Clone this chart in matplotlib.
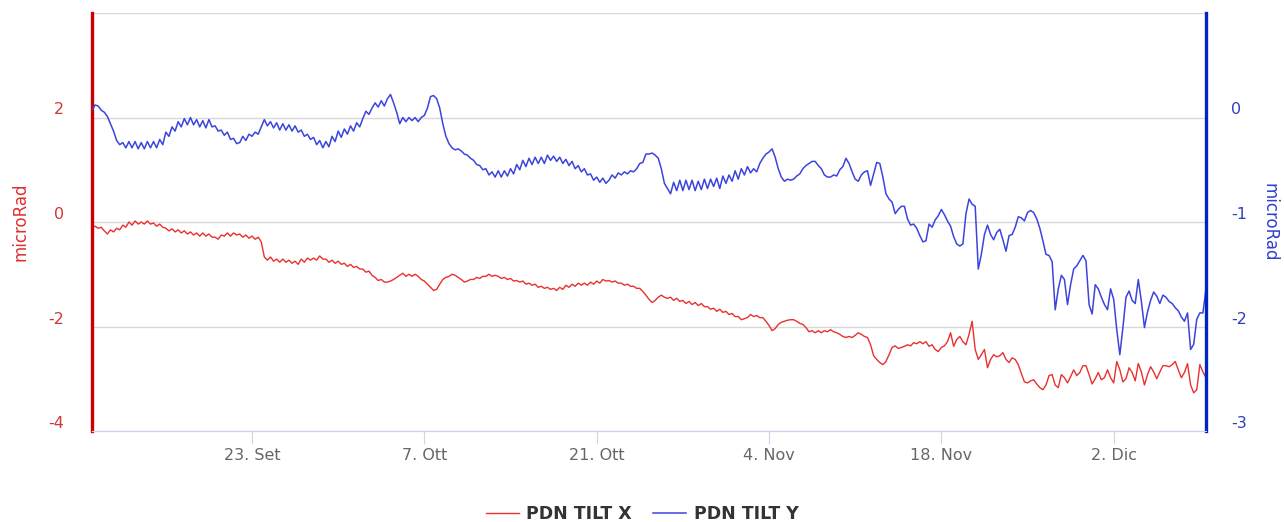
import pandas as pd
import matplotlib
matplotlib.use("Agg")
import matplotlib.pyplot as plt
import matplotlib.transforms as mtransforms

# PDN tilt readings, one value every 6 hours from 10 Sep
start = "2019-09-10 00:00"

tilt_x = [
    -0.10, -0.08, -0.12, -0.10,  -0.17, -0.23, -0.15, -0.19,  -0.12, -0.15, -0.06, -0.10,
    0.00, -0.06, 0.02, -0.04,  0.00, -0.04, 0.02, -0.04,  -0.02, -0.08, -0.04, -0.10,
    -0.12, -0.17, -0.13, -0.19,  -0.15, -0.21, -0.17, -0.23,  -0.19, -0.25, -0.21, -0.27,
    -0.21, -0.27, -0.23, -0.29,  -0.29, -0.33, -0.25, -0.27,  -0.21, -0.27, -0.21, -0.25,
    -0.23, -0.29, -0.25, -0.31,  -0.27, -0.33, -0.29, -0.38,  -0.67, -0.73, -0.67, -0.75,
    -0.71, -0.77, -0.71, -0.77,  -0.73, -0.79, -0.75, -0.81,  -0.71, -0.77, -0.69, -0.73,
    -0.69, -0.73, -0.65, -0.71,  -0.71, -0.77, -0.73, -0.79,  -0.75, -0.81, -0.79, -0.85,
    -0.81, -0.87, -0.85, -0.90,  -0.90, -0.96, -0.94, -1.02,  -1.06, -1.12, -1.10, -1.15,
    -1.15, -1.13, -1.10, -1.06,  -1.02, -0.98, -1.04, -1.00,  -1.04, -1.00, -1.04, -1.10,
    -1.13, -1.19, -1.25, -1.31,  -1.29, -1.19, -1.10, -1.06,  -1.04, -1.00, -1.02, -1.06,
    -1.10, -1.15, -1.13, -1.10,  -1.10, -1.06, -1.08, -1.04,  -1.04, -1.00, -1.04, -1.02,
    -1.04, -1.08, -1.06, -1.10,  -1.08, -1.13, -1.12, -1.15,  -1.13, -1.19, -1.17, -1.21,
    -1.19, -1.25, -1.23, -1.27,  -1.25, -1.29, -1.27, -1.31,  -1.25, -1.29, -1.21, -1.25,
    -1.19, -1.23, -1.17, -1.21,  -1.17, -1.21, -1.15, -1.19,  -1.13, -1.17, -1.10, -1.13,
    -1.12, -1.15, -1.13, -1.17,  -1.17, -1.21, -1.19, -1.23,  -1.23, -1.27, -1.27, -1.33,
    -1.40, -1.48, -1.54, -1.50,  -1.44, -1.40, -1.44, -1.46,  -1.44, -1.50, -1.46, -1.52,
    -1.50, -1.56, -1.52, -1.58,  -1.54, -1.60, -1.56, -1.62,  -1.62, -1.67, -1.65, -1.71,
    -1.67, -1.73, -1.71, -1.77,  -1.75, -1.81, -1.81, -1.87,  -1.85, -1.83, -1.77, -1.81,
    -1.79, -1.83, -1.83, -1.90,  -1.98, -2.08, -2.04, -1.96,  -1.92, -1.90, -1.88, -1.87,
    -1.87, -1.90, -1.94, -1.96,  -2.02, -2.10, -2.08, -2.12,  -2.08, -2.12, -2.08, -2.10,
    -2.06, -2.10, -2.12, -2.15,  -2.19, -2.21, -2.19, -2.21,  -2.17, -2.12, -2.15, -2.19,
    -2.21, -2.35, -2.56, -2.63,  -2.69, -2.73, -2.67, -2.54,  -2.40, -2.37, -2.42, -2.40,
    -2.38, -2.35, -2.37, -2.31,  -2.33, -2.29, -2.33, -2.29,  -2.38, -2.35, -2.44, -2.48,
    -2.40, -2.37, -2.29, -2.12,  -2.38, -2.25, -2.19, -2.29,  -2.35, -2.15, -1.90, -2.44,
    -2.63, -2.54, -2.44, -2.79,  -2.63, -2.54, -2.58, -2.56,  -2.50, -2.63, -2.69, -2.60,
    -2.63, -2.73, -2.90, -3.06,  -3.08, -3.04, -3.02, -3.10,  -3.17, -3.21, -3.12, -2.94,
    -2.92, -3.12, -3.17, -2.92,  -2.98, -3.08, -2.96, -2.83,  -2.94, -2.88, -2.75, -2.75,
    -2.92, -3.10, -3.00, -2.88,  -3.02, -2.98, -2.83, -2.98,  -3.08, -2.67, -2.83, -3.06,
    -3.00, -2.79, -2.88, -3.04,  -2.71, -2.87, -3.12, -2.92,  -2.77, -2.87, -3.00, -2.87,
    -2.75, -2.75, -2.77, -2.73,  -2.67, -2.83, -2.98, -2.88,  -2.71, -3.12, -3.27, -3.21,
    -2.73, -2.87, -2.98,
]

tilt_y = [
    0.07, 0.12, 0.11, 0.07,  0.05, 0.01, -0.06, -0.13,  -0.22, -0.26, -0.24, -0.29,
    -0.23, -0.29, -0.23, -0.30,  -0.24, -0.30, -0.23, -0.29,  -0.23, -0.29, -0.21, -0.26,
    -0.14, -0.18, -0.09, -0.13,  -0.04, -0.09, -0.01, -0.07,  0.00, -0.07, -0.02, -0.09,
    -0.03, -0.10, -0.02, -0.09,  -0.08, -0.13, -0.12, -0.17,  -0.14, -0.21, -0.20, -0.25,
    -0.24, -0.18, -0.22, -0.16,  -0.18, -0.14, -0.16, -0.09,  -0.02, -0.08, -0.04, -0.10,
    -0.05, -0.12, -0.06, -0.12,  -0.07, -0.13, -0.08, -0.14,  -0.12, -0.18, -0.16, -0.21,
    -0.19, -0.26, -0.22, -0.29,  -0.23, -0.28, -0.18, -0.23,  -0.13, -0.19, -0.11, -0.16,
    -0.08, -0.13, -0.05, -0.09,  -0.01, 0.06, 0.03, 0.09,  0.14, 0.10, 0.16, 0.11,
    0.18, 0.22, 0.14, 0.05,  -0.06, 0.00, -0.04, 0.00,  -0.03, 0.00, -0.04, 0.00,
    0.02, 0.09, 0.20, 0.21,  0.18, 0.09, -0.06, -0.18,  -0.25, -0.29, -0.31, -0.30,
    -0.32, -0.35, -0.36, -0.39,  -0.41, -0.45, -0.46, -0.50,  -0.49, -0.55, -0.52, -0.57,
    -0.51, -0.57, -0.51, -0.56,  -0.49, -0.54, -0.45, -0.50,  -0.41, -0.47, -0.39, -0.45,
    -0.38, -0.44, -0.38, -0.44,  -0.36, -0.41, -0.37, -0.42,  -0.38, -0.44, -0.40, -0.46,
    -0.42, -0.49, -0.46, -0.52,  -0.49, -0.55, -0.54, -0.60,  -0.57, -0.62, -0.58, -0.63,
    -0.60, -0.55, -0.58, -0.53,  -0.55, -0.52, -0.54, -0.51,  -0.52, -0.49, -0.44, -0.43,
    -0.35, -0.35, -0.34, -0.36,  -0.39, -0.49, -0.63, -0.68,  -0.73, -0.62, -0.70, -0.60,
    -0.70, -0.60, -0.69, -0.60,  -0.70, -0.61, -0.69, -0.59,  -0.68, -0.59, -0.66, -0.58,
    -0.68, -0.56, -0.63, -0.55,  -0.61, -0.51, -0.59, -0.49,  -0.55, -0.47, -0.53, -0.49,
    -0.52, -0.44, -0.39, -0.35,  -0.33, -0.30, -0.38, -0.49,  -0.57, -0.61, -0.59, -0.60,
    -0.59, -0.56, -0.54, -0.49,  -0.46, -0.44, -0.42, -0.42,  -0.46, -0.49, -0.55, -0.57,
    -0.57, -0.55, -0.56, -0.50,  -0.47, -0.39, -0.44, -0.52,  -0.59, -0.61, -0.55, -0.52,
    -0.51, -0.65, -0.54, -0.43,  -0.44, -0.57, -0.73, -0.78,  -0.81, -0.92, -0.88, -0.85,
    -0.85, -0.97, -1.03, -1.02,  -1.06, -1.13, -1.19, -1.18,  -1.02, -1.05, -0.98, -0.94,
    -0.88, -0.93, -0.99, -1.04,  -1.14, -1.21, -1.23, -1.21,  -0.92, -0.78, -0.83, -0.85,
    -1.45, -1.31, -1.12, -1.03,  -1.12, -1.17, -1.10, -1.07,  -1.17, -1.28, -1.13, -1.12,
    -1.05, -0.95, -0.96, -0.99,  -0.91, -0.89, -0.91, -0.97,  -1.06, -1.18, -1.31, -1.32,
    -1.38, -1.84, -1.64, -1.51,  -1.55, -1.79, -1.60, -1.45,  -1.42, -1.37, -1.32, -1.37,
    -1.79, -1.88, -1.60, -1.64,  -1.72, -1.79, -1.84, -1.64,  -1.74, -2.03, -2.27, -2.01,
    -1.72, -1.66, -1.75, -1.78,  -1.55, -1.76, -2.01, -1.86,  -1.75, -1.67, -1.71, -1.78,
    -1.70, -1.72, -1.76, -1.78,  -1.82, -1.85, -1.91, -1.95,  -1.87, -2.22, -2.17, -1.93,
    -1.87, -1.87, -1.64,
]

tick_dates = ["2019-09-23", "2019-10-07", "2019-10-21", "2019-11-04", "2019-11-18", "2019-12-02"]
tick_labels = ["23. Set", "7. Ott", "21. Ott", "4. Nov", "18. Nov", "2. Dic"]

left_ticks = [-4, -2, 0, 2, 4]
left_labels = ["-4", "-2", "0", "2", ""]
right_ticks = [-3, -2, -1, 0, 1]
right_labels = ["-3", "-2", "-1", "0", ""]

times = pd.date_range(start, periods=len(tilt_x), freq="6h")

red = "#e8302f"
blue = "#3c44de"

fig = plt.figure(figsize=(12.84, 5.22), dpi=100)
ax = fig.add_axes([92 / 1284, 91 / 522, 1114 / 1284, 418 / 522])
ax2 = ax.twinx()

l1, = ax.plot(times, tilt_x, color=red, lw=1.0, label="PDN TILT X")
l2, = ax2.plot(times, tilt_y, color=blue, lw=1.1, label="PDN TILT Y")

ax.set_xlim(times[0], times[-1])
ax.set_ylim(-4, 4)
ax2.set_ylim(-3, 1)

ax.set_xticks(pd.to_datetime(tick_dates))
ax.set_xticklabels(tick_labels)
ax.tick_params(axis="x", length=9.4, color="#ccd6eb", labelcolor="#666666",
               labelsize=11.5, pad=2.5)

ax.set_yticks(left_ticks)
ax.set_yticklabels(left_labels)
ax2.set_yticks(right_ticks)
ax2.set_yticklabels(right_labels)
ax.tick_params(axis="y", length=0, pad=20, labelcolor="#d03838", labelsize=11.5)
ax2.tick_params(axis="y", length=0, pad=18, labelcolor="#2f3fbf", labelsize=11.5)

# labels sit a little above their grid lines
shift = mtransforms.ScaledTranslation(0, 9 / 100, fig.dpi_scale_trans)
for lbl in ax.get_yticklabels() + ax2.get_yticklabels():
    lbl.set_transform(lbl.get_transform() + shift)

ax.grid(axis="y", color="#d8d8d8", lw=1)
ax.set_axisbelow(True)

for a in (ax, ax2):
    a.spines["top"].set_visible(False)
    a.spines["bottom"].set_color("#ccd6eb")
ax.spines["left"].set_color("#cc0000")
ax.spines["left"].set_linewidth(2.4)
ax.spines["right"].set_visible(False)
ax2.spines["left"].set_visible(False)
ax2.spines["right"].set_color("#0025c0")
ax2.spines["right"].set_linewidth(2.4)

ax.set_ylabel("microRad", color="#e03030", fontsize=12, labelpad=13.5)
ax2.set_ylabel("microRad", color="#3040d0", fontsize=12, rotation=270, labelpad=23)

fig.legend([l1, l2], ["PDN TILT X", "PDN TILT Y"], loc="center",
           bbox_to_anchor=(0.5, 1 - 514 / 522), ncol=2, frameon=False,
           handlelength=1.9, handletextpad=0.45, columnspacing=1.2,
           prop={"weight": "bold", "size": 12.5}, labelcolor="#333333")

fig.savefig("out.png", dpi=100)
